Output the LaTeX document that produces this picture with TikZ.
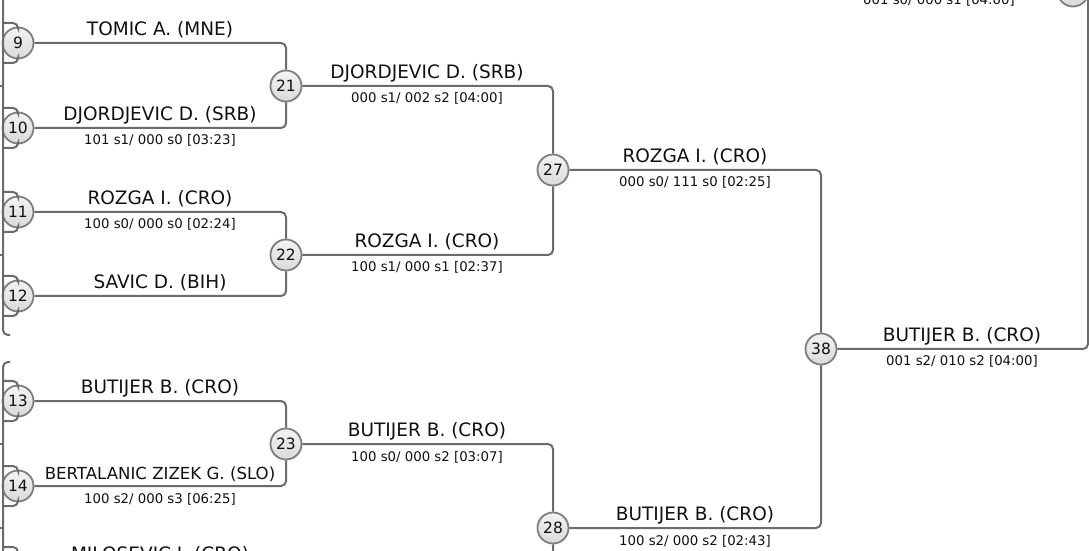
\documentclass[tikz,border=0pt]{standalone}
\usepackage{fontspec}
\setmainfont{DejaVu Sans}
\definecolor{linec}{HTML}{6B6B6B}
\definecolor{circborder}{HTML}{7E7E7E}
\definecolor{circtop}{HTML}{F3F3F3}
\definecolor{circbot}{HTML}{DADADA}
\definecolor{txt}{HTML}{111111}
\begin{document}
\begin{tikzpicture}[x=1bp,y=-1bp,
  conn/.style={draw=linec, line width=2bp, rounded corners=5bp},
  circ/.style={circle, draw=circborder, line width=1.8bp, inner sep=0pt,
    minimum size=31bp, top color=circtop, bottom color=circbot,
    text=txt, font=\fontsize{15.5bp}{15.5bp}\selectfont},
  pname/.style={anchor=base, text=txt, inner sep=0pt, font=\fontsize{18.5bp}{20bp}\selectfont},
  pnamesmall/.style={anchor=base, text=txt, inner sep=0pt, font=\fontsize{16.6bp}{18bp}\selectfont},
  pscore/.style={anchor=base, text=txt, inner sep=0pt, font=\fontsize{13.3bp}{14bp}\selectfont}]
\useasboundingbox (0,0) rectangle (1089,551);
\clip (0,0) rectangle (1089,551);
\fill[white] (0,0) rectangle (1089,551);

% circles
\node[circ] (n9)  at (18,43)  {9};
\node[circ] (n10) at (18,128) {10};
\node[circ] (n11) at (18,212) {11};
\node[circ] (n12) at (18,296) {12};
\node[circ] (n13) at (18,401) {13};
\node[circ] (n14) at (18,486) {14};
\node[circ] (n21) at (286,86)  {21};
\node[circ] (n22) at (286,255) {22};
\node[circ] (n23) at (286,444) {23};
\node[circ] (n27) at (553,170) {27};
\node[circ] (n28) at (553,528) {28};
\node[circ] (n38) at (821,349) {38};
\node[circ] (ntop) at (1073,-9) {};

% free ends
\coordinate (c15) at (18,560);
\coordinate (c24) at (286,613);
\coordinate (c38top) at (1088,-40);

% connectors
\draw[conn] (n9.east)  -| (n21.north);
\draw[conn] (n10.east) -| (n21.south);
\draw[conn] (n11.east) -| (n22.north);
\draw[conn] (n12.east) -| (n22.south);
\draw[conn] (n13.east) -| (n23.north);
\draw[conn] (n14.east) -| (n23.south);
\draw[conn] (n21.east) -| (n27.north);
\draw[conn] (n22.east) -| (n27.south);
\draw[conn] (n23.east) -| (n28.north);
\draw[conn] (c24) -| (n28.south);
\draw[conn] (n27.east) -| (n38.north);
\draw[conn] (n28.east) -| (n38.south);
\draw[conn] (n38.east) -| (c38top);

% left edge structure
\draw[conn] (3,-10) -- (3,335) -- (10,335);
\draw[conn] (10,362) -- (3,362) -- (3,570);
\foreach \yy in {86,255,444,528} \draw[draw=linec, line width=1.5bp] (0,\yy) -- (3,\yy);
\foreach \nd/\yy in {n9/43,n10/128,n11/212,n12/296,n13/401,n14/486}{
  \draw[conn] (3,\yy-20) -| (\nd.north);
  \draw[conn] (3,\yy+20) -| (\nd.south);
}
\draw[conn] (3,547) -| (c15);

% round 1 labels
\node[pname] (t9)  at (160,35.5)  {TOMIC A. (MNE)};
\node[pname] (t10) at (160,120.5) {DJORDJEVIC D. (SRB)};
\node[pscore] (s10) at (160,145) {101 s1/ 000 s0 [03:23]};
\node[pname] (t11) at (160,204.5) {ROZGA I. (CRO)};
\node[pscore] (s11) at (160,229) {100 s0/ 000 s0 [02:24]};
\node[pname] (t12) at (160,288.5) {SAVIC D. (BIH)};
\node[pname] (t13) at (160,393.5) {BUTIJER B. (CRO)};
\node[pnamesmall] (t14) at (160,479.5) {BERTALANIC ZIZEK G. (SLO)};
\node[pscore] (s14) at (160,503) {100 s2/ 000 s3 [06:25]};
\node[pname] (t15) at (160,560) {MILOSEVIC I. (CRO)};

% round 2 labels
\node[pname] (t21) at (427,78.5) {DJORDJEVIC D. (SRB)};
\node[pscore] (s21) at (427,103) {000 s1/ 002 s2 [04:00]};
\node[pname] (t22) at (427,247.5) {ROZGA I. (CRO)};
\node[pscore] (s22) at (427,272) {100 s1/ 000 s1 [02:37]};
\node[pname] (t23) at (427,436.5) {BUTIJER B. (CRO)};
\node[pscore] (s23) at (427,461) {100 s0/ 000 s2 [03:07]};

% round 3 labels
\node[pname] (t27) at (695,162.5) {ROZGA I. (CRO)};
\node[pscore] (s27) at (695,187) {000 s0/ 111 s0 [02:25]};
\node[pname] (t28) at (695,520.5) {BUTIJER B. (CRO)};
\node[pscore] (s28) at (695,545) {100 s2/ 000 s2 [02:43]};

% round 4 labels
\node[pname] (t38) at (962,341.5) {BUTIJER B. (CRO)};
\node[pscore] (s38) at (962,365.5) {001 s2/ 010 s2 [04:00]};
\node[pscore] (stop) at (939,5) {001 s0/ 000 s1 [04:00]};
\end{tikzpicture}
\end{document}
